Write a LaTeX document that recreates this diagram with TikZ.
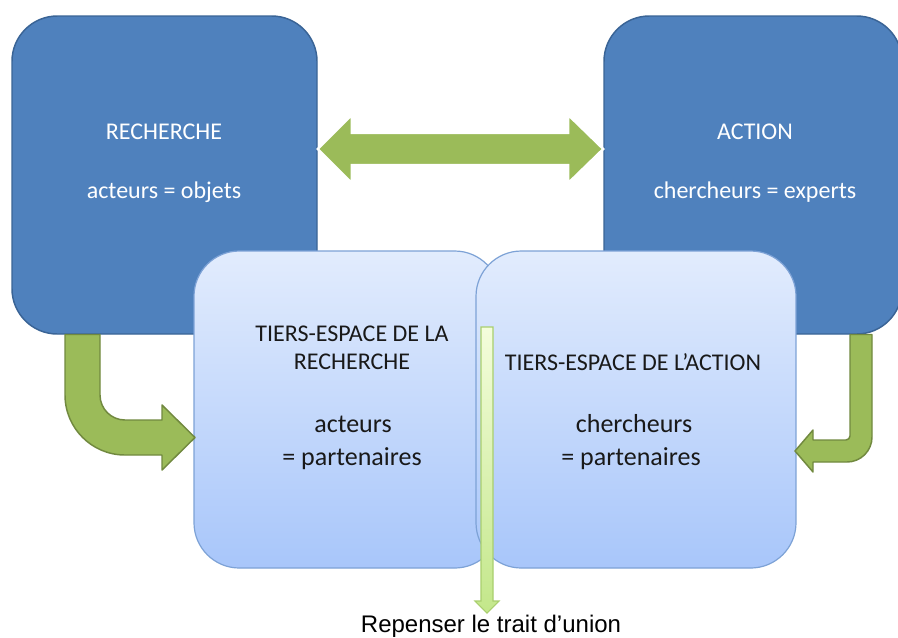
\documentclass[tikz,border=0pt]{standalone}
\usepackage{fontspec}
\setmainfont{Carlito}
\newfontfamily\labelfont{Liberation Sans}
\usetikzlibrary{calc}
\definecolor{darkblue}{HTML}{4F81BD}
\definecolor{darkblueline}{HTML}{3A6496}
\definecolor{lighttop}{HTML}{E2ECFD}
\definecolor{lightbot}{HTML}{A8C6FA}
\definecolor{lightline}{HTML}{7DA2D6}
\definecolor{agreen}{HTML}{9BBB59}
\definecolor{agreenline}{HTML}{71893F}
\definecolor{ptop}{HTML}{F4FDDC}
\definecolor{pbot}{HTML}{C3E78A}
\definecolor{pline}{HTML}{A9CF6E}
\begin{document}
\begin{tikzpicture}[x=0.75pt,y=-0.75pt,
  darkbox/.style={draw=darkblueline, fill=darkblue, line width=1.1pt, rounded corners=34pt, inner sep=0pt, minimum height=238.5pt},
  lightbox/.style={draw=lightline, top color=lighttop, bottom color=lightbot, line width=0.9pt, rounded corners=34pt, inner sep=0pt, minimum height=237.75pt},
  whitetxt/.style={text=white, font=\fontsize{18}{22}\selectfont, anchor=base, inner sep=0pt},
  blacktxt/.style={text=black!90, font=\fontsize{18}{22}\selectfont, anchor=base, inner sep=0pt},
  blacklow/.style={blacktxt, font=\fontsize{19.5}{22}\selectfont},
  bentarrow/.style={fill=agreen, draw=agreenline, line width=1.1pt, line join=round},
  dblarrow/.style={fill=agreen, draw=white, line width=1.8pt, line join=miter},
  pointer/.style={top color=ptop, bottom color=pbot, draw=pline, line width=0.8pt},
  labeltxt/.style={font=\labelfont\fontsize{18}{20}\selectfont, anchor=base, inner sep=0pt}
]
\useasboundingbox (0,0) rectangle (898,637);
\fill[white] (0,0) rectangle (898,637);

% top boxes
\node[darkbox, minimum width=228.75pt] (rech) at (164.5,175) {};
\node[darkbox, minimum width=223.5pt] (act) at (753,175) {};
\node[whitetxt] (rechT) at (164,139) {RECHERCHE};
\node[whitetxt] (rechS) at (164,198) {acteurs = objets};
\node[whitetxt] (actT) at (755,139) {ACTION};
\node[whitetxt] (actS) at (755,198) {chercheurs = experts};

% double arrow between the top boxes
\path ([yshift=19.5pt]rech.east) coordinate (dl) ([yshift=19.5pt]act.west) coordinate (dr);
\filldraw[dblarrow] (dl) -- ++(34,-34) -- ++(0,18) -- ($(dr)+(-35,-16)$) -- ++(0,-18) -- (dr)
  -- ++(-35,34) -- ++(0,-18) -- ($(dl)+(34,16)$) -- ++(0,18) -- cycle;

% third-space boxes
\node[lightbox, minimum width=229.5pt] (tl) at (347,409.5) {};
\node[lightbox, minimum width=240pt] (tr) at (636,409.5) {};
\node[blacktxt] (tlA) at (352,341) {TIERS-ESPACE DE LA};
\node[blacktxt] (tlB) at (352,369) {RECHERCHE};
\node[blacklow] (tlC) at (353,432) {acteurs};
\node[blacklow] (tlD) at (352,465) {= partenaires};
\node[blacktxt] (trA) at (633,370) {TIERS-ESPACE DE L’ACTION};
\node[blacklow] (trC) at (634,432) {chercheurs};
\node[blacklow] (trD) at (631,465) {= partenaires};

% bent arrows
\filldraw[bentarrow] (65,334.5) -- (65,395) .. controls (65,428.1) and (91.9,455) .. (125,455)
  -- (162,455) -- (162,470) -- (195,437.5) -- (162,405) -- (162,420) -- (125,420)
  .. controls (111.2,420) and (100,408.8) .. (100,395) -- (100,334.5) -- cycle;
\filldraw[bentarrow] (850,334.5) -- (872,334.5) -- (872,437) .. controls (872,450.8) and (860.8,462) .. (847,462)
  -- (813,462) -- (813,472) -- (795,451) -- (813,430) -- (813,440) -- (846,440)
  .. controls (848,440) and (850,438) .. (850,436) -- cycle;

% pointer to the caption
\node[labeltxt] (lbl) at (491,632) {Repenser le trait d’union};
\coordinate (ptop) at (487,327);
\shade[pointer] ($(ptop)+(-6,0)$) -- ($(ptop)+(6,0)$) -- ($(ptop)+(6,274)$) -- ($(ptop)+(12,274)$)
  -- ($(ptop)+(0,286)$) -- ($(ptop)+(-12,274)$) -- ($(ptop)+(-6,274)$) -- cycle;
\end{tikzpicture}
\end{document}
